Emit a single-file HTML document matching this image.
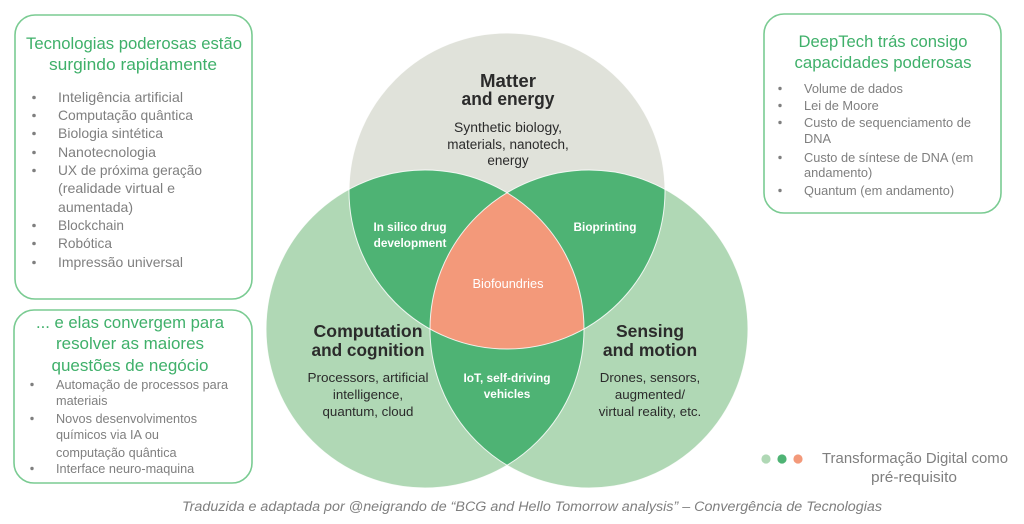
<!DOCTYPE html>
<html><head><meta charset="utf-8"><style>
html,body{margin:0;padding:0;background:#fff;}
svg{display:block;}
text{font-family:"Liberation Sans",Arial,sans-serif;}
</style></head><body>
<svg width="1024" height="524" viewBox="0 0 1024 524" xmlns="http://www.w3.org/2000/svg">
<defs>
<clipPath id="cT"><circle cx="507" cy="191" r="158"/></clipPath>
<clipPath id="cL"><circle cx="425" cy="329" r="159"/></clipPath>
<clipPath id="cR"><circle cx="589" cy="329" r="159"/></clipPath>
</defs>

<!-- Venn -->
<circle cx="425" cy="329" r="159" fill="#b0d8b5"/>
<circle cx="589" cy="329" r="159" fill="#b0d8b5"/>
<circle cx="507" cy="191" r="158" fill="#e0e2da"/>
<circle cx="425" cy="329" r="159" fill="#4eb374" clip-path="url(#cT)"/>
<circle cx="589" cy="329" r="159" fill="#4eb374" clip-path="url(#cT)"/>
<circle cx="589" cy="329" r="159" fill="#4eb374" clip-path="url(#cL)"/>
<g clip-path="url(#cR)"><circle cx="507" cy="191" r="158" fill="#f3997a" clip-path="url(#cL)"/></g>
<g fill="none" stroke="#ffffff" stroke-width="1" stroke-opacity="0.85">
<circle cx="425" cy="329" r="159"/>
<circle cx="589" cy="329" r="159"/>
<circle cx="507" cy="191" r="158"/>
</g>

<g fill="#2b2b2b" text-anchor="middle">
<text x="508" y="87" font-size="18" font-weight="bold" textLength="56" lengthAdjust="spacingAndGlyphs">Matter</text>
<text x="508" y="105" font-size="18" font-weight="bold" textLength="93" lengthAdjust="spacingAndGlyphs">and energy</text>
<text x="508" y="132" font-size="13.5" textLength="108" lengthAdjust="spacingAndGlyphs">Synthetic biology,</text>
<text x="508" y="149" font-size="13.5">materials, nanotech,</text>
<text x="508" y="165" font-size="13.5">energy</text>

<text x="368" y="337" font-size="17.5" font-weight="bold" textLength="109" lengthAdjust="spacingAndGlyphs">Computation</text>
<text x="368" y="356" font-size="17.5" font-weight="bold" textLength="113" lengthAdjust="spacingAndGlyphs">and cognition</text>
<text x="368" y="382" font-size="13.3" textLength="121" lengthAdjust="spacingAndGlyphs">Processors, artificial</text>
<text x="368" y="399" font-size="13.3">intelligence,</text>
<text x="368" y="416" font-size="13.3">quantum, cloud</text>

<text x="650" y="337" font-size="17.5" font-weight="bold">Sensing</text>
<text x="650" y="356" font-size="17.5" font-weight="bold">and motion</text>
<text x="650" y="382" font-size="13.3">Drones, sensors,</text>
<text x="650" y="399" font-size="13.3">augmented/</text>
<text x="650" y="416" font-size="13.3">virtual reality, etc.</text>
</g>

<g fill="#ffffff" text-anchor="middle">
<text x="410" y="231" font-size="11.8" font-weight="bold" textLength="73" lengthAdjust="spacingAndGlyphs">In silico drug</text>
<text x="410" y="247" font-size="11.8" font-weight="bold">development</text>
<text x="605" y="231" font-size="11.8" font-weight="bold" textLength="63" lengthAdjust="spacingAndGlyphs">Bioprinting</text>
<text x="508" y="288" font-size="12.5" textLength="71" lengthAdjust="spacingAndGlyphs">Biofoundries</text>
<text x="507" y="382" font-size="11.8" font-weight="bold" textLength="87" lengthAdjust="spacingAndGlyphs">IoT, self-driving</text>
<text x="507" y="398" font-size="11.8" font-weight="bold">vehicles</text>
</g>

<!-- Boxes -->
<g fill="none" stroke="#7acb92" stroke-width="1.6">
<rect x="15" y="15" width="237" height="284" rx="20" ry="20"/>
<rect x="14" y="310" width="238" height="173" rx="20" ry="20"/>
<rect x="764" y="14" width="237" height="199" rx="20" ry="20"/>
</g>

<!-- Titles -->
<g fill="#3fb06a" text-anchor="middle">
<text x="134" y="49" font-size="16.5" textLength="216" lengthAdjust="spacingAndGlyphs">Tecnologias poderosas estão</text>
<text x="133" y="70" font-size="16.5" textLength="168" lengthAdjust="spacingAndGlyphs">surgindo rapidamente</text>

<text x="130" y="328" font-size="16.7" textLength="188" lengthAdjust="spacingAndGlyphs">... e elas convergem para</text>
<text x="130" y="349" font-size="16.7" textLength="148" lengthAdjust="spacingAndGlyphs">resolver as maiores</text>
<text x="130" y="371" font-size="16.7" textLength="157" lengthAdjust="spacingAndGlyphs">questões de negócio</text>

<text x="883" y="47" font-size="16.5" textLength="169" lengthAdjust="spacingAndGlyphs">DeepTech trás consigo</text>
<text x="883" y="68" font-size="16.5" textLength="177" lengthAdjust="spacingAndGlyphs">capacidades poderosas</text>
</g>

<!-- Left top bullets -->
<g fill="#7f7f7f">
<circle cx="34" cy="97.5" r="1.8"/>
<circle cx="34" cy="115.5" r="1.8"/>
<circle cx="34" cy="133.5" r="1.8"/>
<circle cx="34" cy="152.5" r="1.8"/>
<circle cx="34" cy="170.5" r="1.8"/>
<circle cx="34" cy="225.5" r="1.8"/>
<circle cx="34" cy="243.5" r="1.8"/>
<circle cx="34" cy="262.5" r="1.8"/>
</g>
<g fill="#7f7f7f" font-size="14">
<text x="58" y="102" textLength="125" lengthAdjust="spacingAndGlyphs">Inteligência artificial</text>
<text x="58" y="120" textLength="135" lengthAdjust="spacingAndGlyphs">Computação quântica</text>
<text x="58" y="138" textLength="105" lengthAdjust="spacingAndGlyphs">Biologia sintética</text>
<text x="58" y="157" textLength="98" lengthAdjust="spacingAndGlyphs">Nanotecnologia</text>
<text x="58" y="175" textLength="144" lengthAdjust="spacingAndGlyphs">UX de próxima geração</text>
<text x="58" y="193" textLength="117" lengthAdjust="spacingAndGlyphs">(realidade virtual e</text>
<text x="58" y="212" textLength="75" lengthAdjust="spacingAndGlyphs">aumentada)</text>
<text x="58" y="230" textLength="66" lengthAdjust="spacingAndGlyphs">Blockchain</text>
<text x="58" y="248" textLength="54" lengthAdjust="spacingAndGlyphs">Robótica</text>
<text x="58" y="267" textLength="125" lengthAdjust="spacingAndGlyphs">Impressão universal</text>
</g>

<!-- Left bottom bullets -->
<g fill="#7f7f7f">
<circle cx="32" cy="384.5" r="1.7"/>
<circle cx="32" cy="418.5" r="1.7"/>
<circle cx="32" cy="468.5" r="1.7"/>
</g>
<g fill="#7f7f7f" font-size="12.7">
<text x="56" y="389" textLength="172" lengthAdjust="spacingAndGlyphs">Automação de processos para</text>
<text x="56" y="405">materiais</text>
<text x="56" y="423">Novos desenvolvimentos</text>
<text x="56" y="439">químicos via IA ou</text>
<text x="56" y="457">computação quântica</text>
<text x="56" y="473">Interface neuro-maquina</text>
</g>

<!-- Right bullets -->
<g fill="#7f7f7f">
<circle cx="780" cy="88.5" r="1.7"/>
<circle cx="780" cy="105.5" r="1.7"/>
<circle cx="780" cy="122.5" r="1.7"/>
<circle cx="780" cy="157.5" r="1.7"/>
<circle cx="780" cy="190.5" r="1.7"/>
</g>
<g fill="#7f7f7f" font-size="12.8">
<text x="804" y="93">Volume de dados</text>
<text x="804" y="110">Lei de Moore</text>
<text x="804" y="127" textLength="167" lengthAdjust="spacingAndGlyphs">Custo de sequenciamento de</text>
<text x="804" y="143">DNA</text>
<text x="804" y="162">Custo de síntese de DNA (em</text>
<text x="804" y="177">andamento)</text>
<text x="804" y="195">Quantum (em andamento)</text>
</g>

<!-- Legend -->
<circle cx="766" cy="459" r="4.6" fill="#b0d8b5"/>
<circle cx="782" cy="459" r="4.6" fill="#4eb374"/>
<circle cx="798" cy="459" r="4.6" fill="#f3997a"/>
<g fill="#7f7f7f" font-size="14.8" text-anchor="middle">
<text x="915" y="463" textLength="186" lengthAdjust="spacingAndGlyphs">Transformação Digital como</text>
<text x="914" y="482" textLength="86" lengthAdjust="spacingAndGlyphs">pré-requisito</text>
</g>

<!-- Caption -->
<text x="182" y="511" font-size="13.5" font-style="italic" fill="#7f7f7f" textLength="700" lengthAdjust="spacingAndGlyphs">Traduzida e adaptada por @neigrando de “BCG and Hello Tomorrow analysis” – Convergência de Tecnologias</text>
</svg>
</body></html>
